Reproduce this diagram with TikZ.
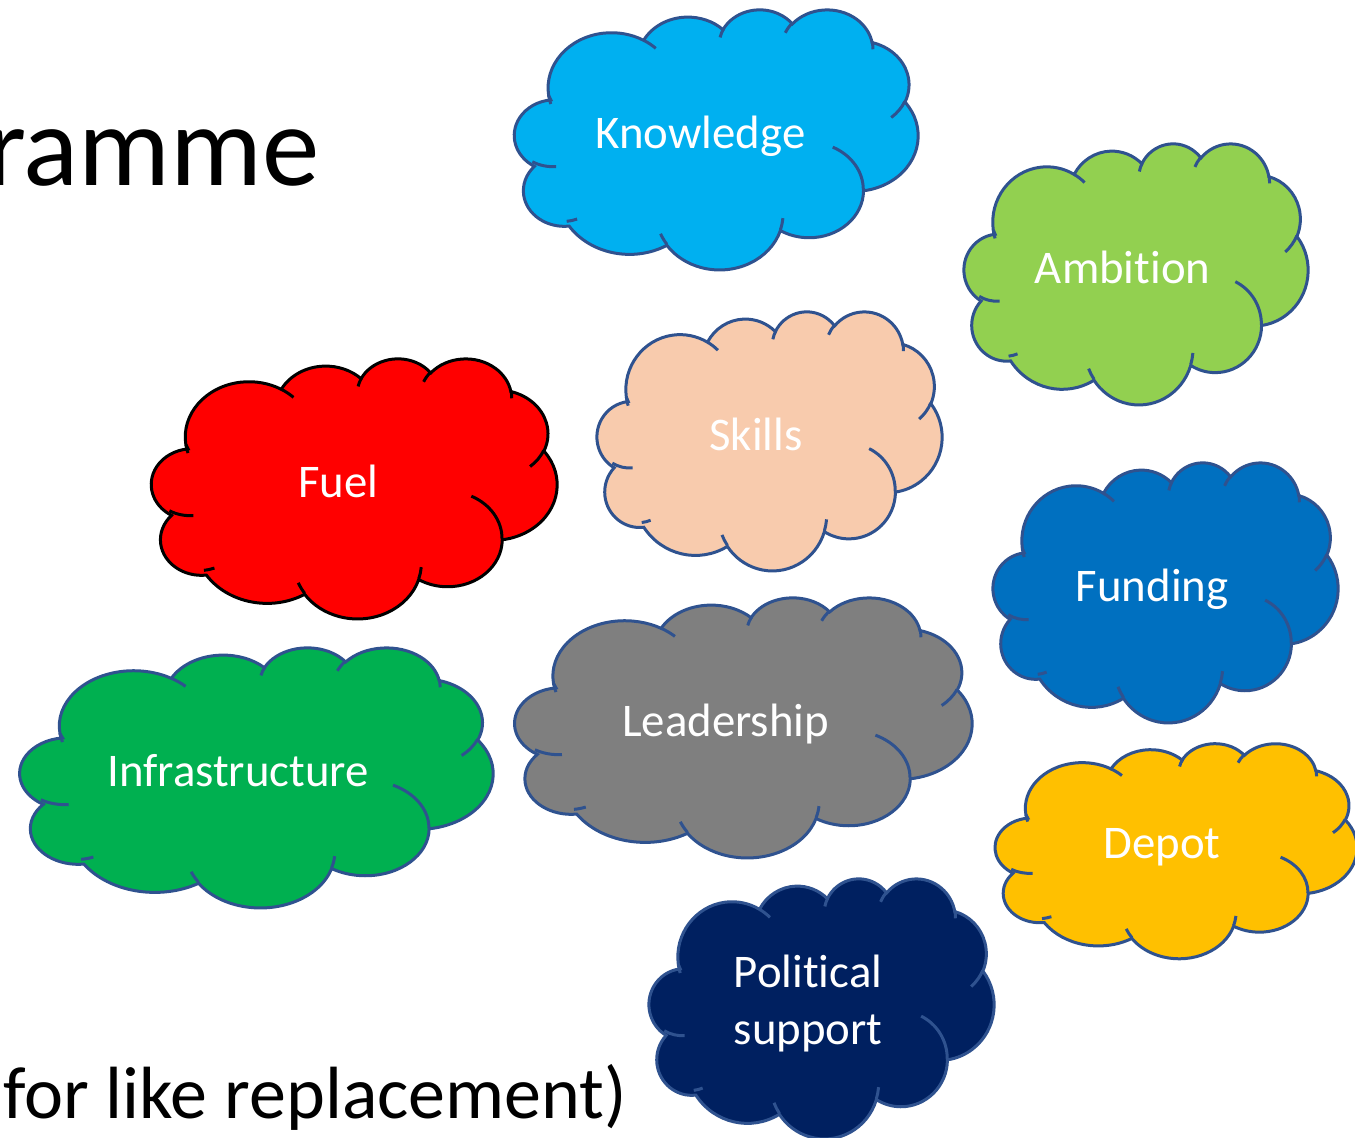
\documentclass[tikz,border=0pt]{standalone}
\usepackage{fontspec}
\setmainfont[Ligatures=NoCommon]{Carlito}
\usetikzlibrary{positioning}

\definecolor{knowblue}{HTML}{00B0F0}
\definecolor{ambgreen}{HTML}{92D050}
\definecolor{skillpeach}{HTML}{F8CBAD}
\definecolor{fuelred}{HTML}{FF0000}
\definecolor{fundblue}{HTML}{0070C0}
\definecolor{leadgrey}{HTML}{7F7F7F}
\definecolor{infragreen}{HTML}{00B050}
\definecolor{depotgold}{HTML}{FFC000}
\definecolor{polnavy}{HTML}{002060}
\definecolor{cloudline}{HTML}{2F528F}

% one arc of the cloud outline: x radius, y radius, start and sweep (true angles)
\newcommand\cloudarc[4]{arc[x radius=#1, y radius=#2,
  start angle={atan2((#1)*sin(#3),(#2)*cos(#3))},
  delta angle={mod(atan2((#1)*sin((#3)+(#4)),(#2)*cos((#3)+(#4)))-atan2((#1)*sin(#3),(#2)*cos(#3))+720,360)}]}

\tikzset{
  cloudtext/.style={text=white,inner sep=0pt,align=center,anchor=base,
    font=\fontsize{46.8}{57}\selectfont},
  cloudsize/.style 2 args={xscale=#1/43.2,yscale=#2/43.2},
  pics/cloudbox/.style 2 args={code={
    \path[pic actions] (3.9,14.37)
      \cloudarc{6.753}{9.19}{-190.4875}{123.7805}
      \cloudarc{5.333}{7.267}{-144.1024}{89.9452}
      \cloudarc{4.365}{5.945}{-145.8079}{99.723}
      \cloudarc{4.857}{6.595}{-130.9861}{117.2417}
      \cloudarc{5.333}{7.273}{-78.7089}{109.0269}
      \cloudarc{6.775}{9.22}{-46.2673}{130.269}
      \cloudarc{5.785}{7.867}{0.625}{114.0333}
      \cloudarc{6.752}{9.215}{22.4516}{115.1726}
      \cloudarc{7.72}{10.543}{66.2426}{71.4864}
      \cloudarc{4.36}{5.918}{-274.9421}{146.7356}
      \cloudarc{4.345}{5.945}{-246.8285}{152.5189} -- cycle;
    \path[pic actions,fill=none]
      (4.693,26.177) \cloudarc{4.345}{5.945}{86.742}{26.4295}
      (6.928,34.899) \cloudarc{4.36}{5.918}{73.6105}{11.4475}
      (16.478,39.09) \cloudarc{6.752}{9.215}{137.6242}{14.0811}
      (28.827,34.751) \cloudarc{6.752}{9.215}{6.4533}{15.9984}
      (34.129,22.954) \cloudarc{5.785}{7.867}{-70.2924}{70.9174}
      (41.798,15.354) \cloudarc{5.333}{7.273}{30.318}{27.7515}
      (38.324,5.426) \cloudarc{4.857}{6.595}{-13.7443}{14.8589}
      (29.078,3.952) \cloudarc{4.857}{6.595}{-149.1815}{18.1954}
      (22.141,4.72) \cloudarc{4.365}{5.945}{-163.4943}{17.6864}
      (14,5.192) \cloudarc{6.753}{9.19}{-66.707}{12.3194}
      (4.127,15.789) \cloudarc{6.753}{9.19}{157.6544}{11.8582};
    \node[cloudtext] (-text) at (20.06,#2) {#1};
  }},
  cloudpic/.style={draw=cloudline,line width=3pt}
}

\begin{document}
\begin{tikzpicture}
[x=1pt,y=-1pt,
slidetext/.style={inner sep=0pt,text=black}]
\useasboundingbox (0,0) rectangle (1355,1138);

\node[slidetext,anchor=base east,font=\fontsize{115}{138}\selectfont] (title) at (320,185) {ramme};
\node[slidetext,anchor=base west,font=\fontsize{74}{89}\selectfont] (subtitle) at (3,1118) {for like replacement)};

\pic[cloudpic,fill=knowblue,cloudsize={406}{260}] (know) at (512,9) {cloudbox={Knowledge}{23.2}};
\pic[cloudpic,fill=ambgreen,cloudsize={346}{261}] (amb) at (962,143) {cloudbox={Ambition}{23.2}};
\pic[cloudpic,fill=skillpeach,cloudsize={347}{259}] (skill) at (595,311) {cloudbox={Skills}{23.2}};
\pic[cloudpic,draw=black,fill=fuelred,cloudsize={408}{260}] (fuel) at (149,358) {cloudbox={Fuel}{23.2}};
\pic[cloudpic,fill=fundblue,cloudsize={347}{260}] (fund) at (991,462) {cloudbox={Funding}{23.2}};
\pic[cloudpic,fill=leadgrey,cloudsize={460}{260}] (lead) at (512,597) {cloudbox={Leadership}{23.2}};
\pic[cloudpic,fill=infragreen,cloudsize={476}{260}] (infra) at (17,647) {cloudbox={Infrastructure}{23.2}};
\pic[cloudpic,fill=depotgold,cloudsize={364}{215}] (depot) at (993,743) {cloudbox={Depot}{23.2}};
\pic[cloudpic,fill=polnavy,cloudsize={347}{260}] (pol) at (647,878) {cloudbox={Political\\support}{27.7}};
\end{tikzpicture}
\end{document}
